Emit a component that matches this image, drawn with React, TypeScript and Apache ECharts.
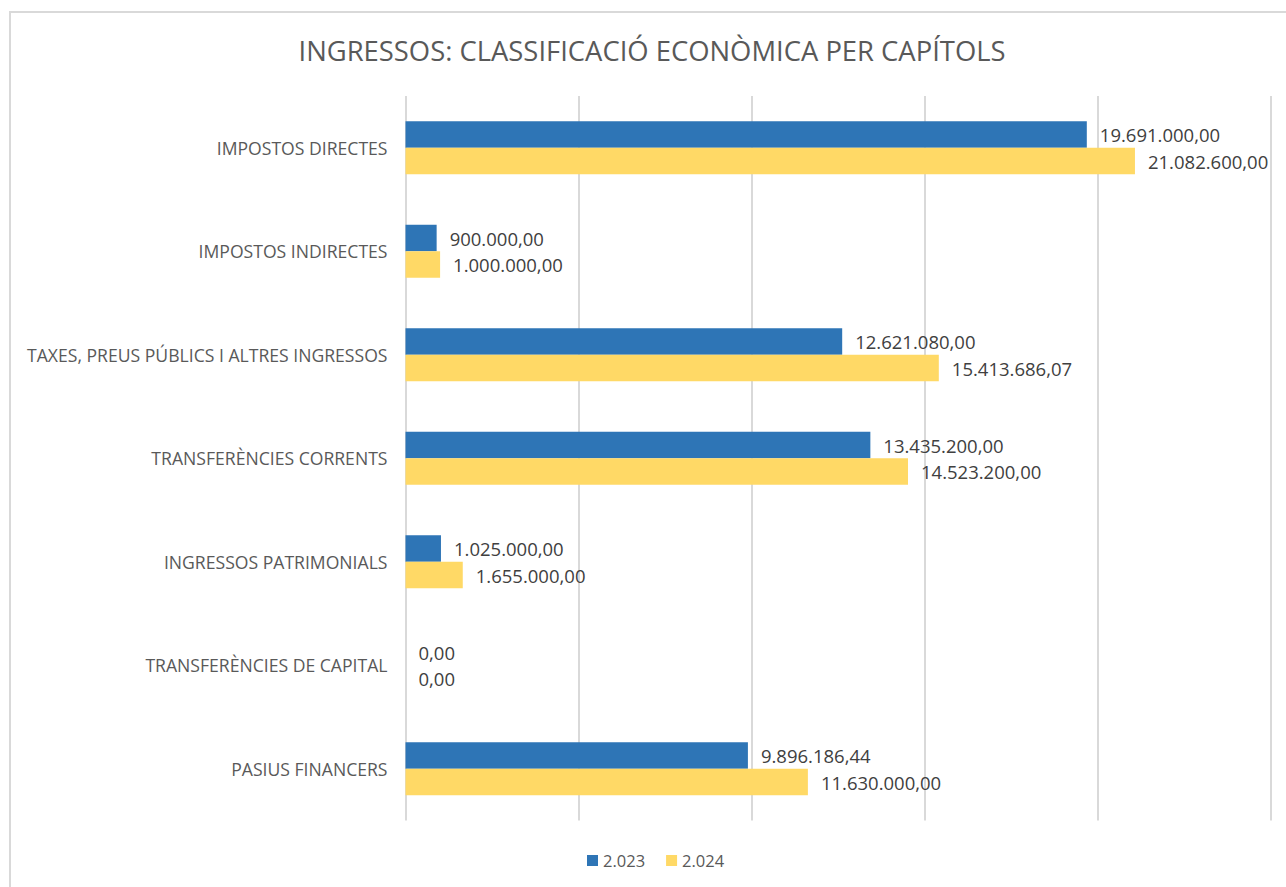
import React, { useEffect, useRef } from "react";
import * as echarts from "echarts";

const categories = [
  "IMPOSTOS DIRECTES",
  "IMPOSTOS INDIRECTES",
  "TAXES, PREUS PÚBLICS I ALTRES INGRESSOS",
  "TRANSFERÈNCIES CORRENTS",
  "INGRESSOS PATRIMONIALS",
  "TRANSFERÈNCIES DE CAPITAL",
  "PASIUS FINANCERS",
];
const values2023 = [19691000, 900000, 12621080, 13435200, 1025000, 0, 9896186.44];
const values2024 = [21082600, 1000000, 15413686.07, 14523200, 1655000, 0, 11630000];
const seriesNames = ["2.023", "2.024"];
const titleText = "INGRESSOS: CLASSIFICACIÓ ECONÒMICA PER CAPÍTOLS";

const fmt = (v: number) => {
  const [i, d] = v.toFixed(2).split(".");
  return i.replace(/\B(?=(\d{3})+(?!\d))/g, ".") + "," + d;
};

const FONT = "Open Sans";

export default function App() {
  const ref = useRef<HTMLDivElement>(null);
  useEffect(() => {
    document.body.style.margin = "0";
    const chart = echarts.init(ref.current!, null, { renderer: "svg" });
    const label = {
      show: true,
      position: "right",
      distance: 13,
      color: "#404040",
      fontSize: 18.5,
      fontFamily: FONT,
      formatter: (p: any) => fmt(p.value),
    };
    chart.setOption({
      animation: false,
      textStyle: { fontFamily: FONT },
      graphic: [
        {
          type: "rect",
          shape: { x: 10, y: 12, width: 1400, height: 1000 },
          style: { fill: "none", stroke: "#d9d9d9", lineWidth: 2 },
          silent: true,
        },
        {
          type: "text",
          x: 652,
          y: 50,
          style: {
            text: titleText,
            fontSize: 27.4,
            fontFamily: FONT,
            fill: "#595959",
            textAlign: "center",
            textVerticalAlign: "middle",
          },
          silent: true,
        },
      ],
      legend: {
        data: seriesNames,
        left: 582,
        top: 847,
        itemWidth: 11,
        itemHeight: 11,
        itemGap: 21,
        icon: "rect",
        textStyle: { fontSize: 16.5, color: "#595959", fontFamily: FONT },
      },
      grid: { left: 405.5, top: 96, width: 865, height: 724.5, containLabel: false },
      xAxis: {
        type: "value",
        min: 0,
        max: 25000000,
        interval: 5000000,
        axisLabel: { show: false },
        axisLine: { show: false },
        axisTick: { show: false },
        splitLine: { show: true, lineStyle: { color: "#d9d9d9", width: 2 } },
      },
      yAxis: {
        type: "category",
        data: categories,
        inverse: true,
        axisLine: { show: false },
        axisTick: { show: false },
        axisLabel: { margin: 18, fontSize: 17.6, color: "#595959", fontFamily: FONT },
      },
      series: [
        {
          name: seriesNames[0],
          type: "bar",
          data: values2023,
          barWidth: 26.5,
          barGap: "0%",
          barCategoryGap: "49%",
          itemStyle: { color: "#2e75b6" },
          label,
        },
        {
          name: seriesNames[1],
          type: "bar",
          data: values2024,
          barWidth: 26.5,
          barGap: "0%",
          itemStyle: { color: "#ffd966" },
          label,
        },
      ],
    });
    return () => chart.dispose();
  }, []);
  return <div ref={ref} style={{ width: 1286, height: 887 }} />;
}
